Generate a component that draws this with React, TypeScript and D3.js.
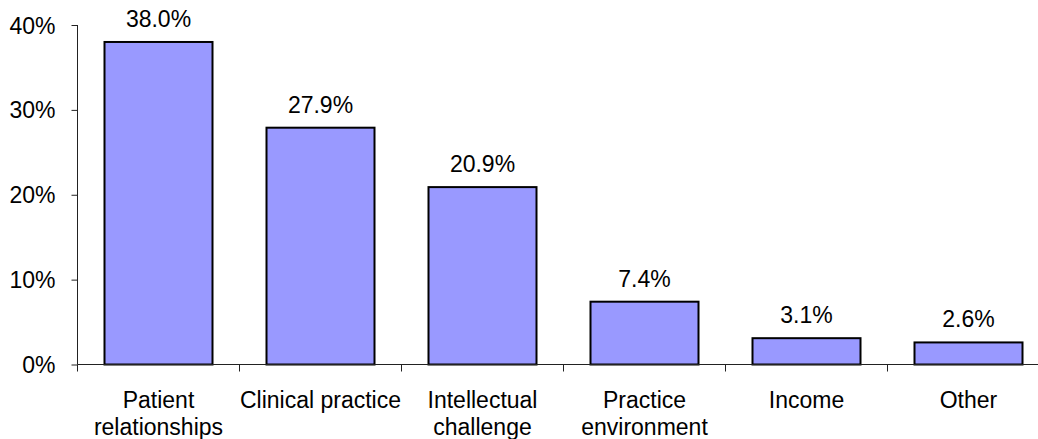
import { FC, useEffect, useRef } from "react";
import * as d3 from "d3";

const categories: string[][] = [
    ["Patient", "relationships"],
    ["Clinical practice"],
    ["Intellectual", "challenge"],
    ["Practice", "environment"],
    ["Income"],
    ["Other"],
];
const values: number[] = [38.0, 27.9, 20.9, 7.4, 3.1, 2.6];
const yTicks: number[] = [0, 10, 20, 30, 40];

const App: FC = () => {
    const ref = useRef<SVGSVGElement>(null);

    useEffect(() => {
        document.body.style.margin = "0";
        const svg = d3.select(ref.current);
        svg.selectAll("*").remove();

        var width = 1038, height = 439;
        var left = 77.5, bottom = 364.5, top = 25;
        var step = 162;

        var x = d3.scaleBand<number>()
            .domain(values.map((_, i) => i))
            .range([left, left + step * values.length])
            .paddingInner(1 / 3)
            .paddingOuter(1 / 6);

        var y = d3.scaleLinear()
            .domain([0, 40])
            .range([bottom, top]);

        var font = "'Liberation Sans', Arial, sans-serif";
        var fs = 23;

        // Y axis
        var yAxis = svg.append("g")
            .attr("transform", "translate(" + left + ",0)")
            .call(d3.axisLeft(y).tickValues(yTicks).tickFormat((d) => d + "%").tickSize(6).tickPadding(16));
        yAxis.select(".domain").attr("stroke", "#222").attr("d", "M0," + y(40) + "V" + y(0));
        yAxis.selectAll(".tick line").attr("stroke", "#222");
        yAxis.selectAll(".tick text")
            .attr("font-family", font)
            .attr("font-size", fs)
            .attr("fill", "#000")
            .attr("dy", "0.35em");

        // bars
        svg.selectAll(".bar")
            .data(values)
            .enter()
            .append("rect")
            .attr("x", (_, i) => x(i)!)
            .attr("y", (d) => y(d))
            .attr("width", x.bandwidth())
            .attr("height", (d) => y(0) - y(d))
            .attr("fill", "#9999FF")
            .attr("stroke", "#000")
            .attr("stroke-width", 2);

        // X axis
        svg.append("line")
            .attr("x1", left)
            .attr("x2", left + step * values.length)
            .attr("y1", bottom)
            .attr("y2", bottom)
            .attr("stroke", "#222")
            .attr("stroke-width", 1);
        svg.selectAll(".xtick")
            .data(d3.range(values.length + 1))
            .enter()
            .append("line")
            .attr("x1", (i) => left + step * i)
            .attr("x2", (i) => left + step * i)
            .attr("y1", bottom)
            .attr("y2", bottom + 7)
            .attr("stroke", "#222");

        // value labels
        svg.selectAll(".val")
            .data(values)
            .enter()
            .append("text")
            .attr("x", (_, i) => x(i)! + x.bandwidth() / 2)
            .attr("y", (d) => y(d) - 15)
            .attr("text-anchor", "middle")
            .attr("font-family", font)
            .attr("font-size", fs)
            .text((d) => d.toFixed(1) + "%");

        // category labels
        var cat = svg.selectAll(".cat")
            .data(categories)
            .enter()
            .append("text")
            .attr("x", (_, i) => x(i)! + x.bandwidth() / 2)
            .attr("y", 408)
            .attr("text-anchor", "middle")
            .attr("font-family", font)
            .attr("font-size", fs);
        cat.selectAll("tspan")
            .data((d) => d)
            .enter()
            .append("tspan")
            .attr("x", function () { return (this.parentNode as SVGTextElement).getAttribute("x"); })
            .attr("dy", (_, j) => (j === 0 ? 0 : 27))
            .text((d) => d);

        svg.attr("width", width).attr("height", height);
    }, []);

    return (<svg ref={ref} style={{ display: "block" }}></svg>);
};

export default App;
